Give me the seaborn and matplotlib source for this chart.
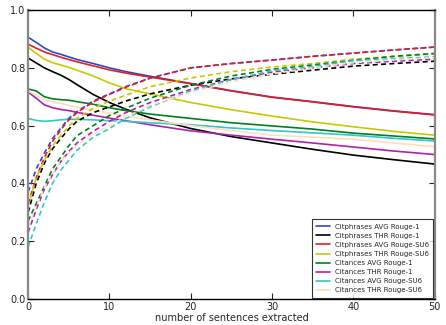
import numpy as np
import pandas as pd
import seaborn as sns
import matplotlib
matplotlib.use("Agg")
import matplotlib.pyplot as plt

# x positions (number of sentences extracted)
xs = [0, 1, 2, 3, 4, 5, 6, 8, 10, 12, 15, 20, 25, 30, 35, 40, 45, 50]

labels = ["Citphrases AVG Rouge-1", "Citphrases THR Rouge-1",
          "Citphrases AVG Rouge-SU6", "Citphrases THR Rouge-SU6",
          "Citances AVG Rouge-1", "Citances THR Rouge-1",
          "Citances AVG Rouge-SU6", "Citances THR Rouge-SU6"]
colors = ["#3344cc", "black", "#e02020", "#c8c800",
          "#008020", "#b020b0", "#30c8c8", "#ffdcbc"]

# solid (decreasing) curves
solid_cp_avg_r1 = [0.906, 0.888, 0.869, 0.855, 0.847, 0.838, 0.829, 0.815, 0.800, 0.787, 0.771, 0.746, 0.721, 0.699, 0.683, 0.666, 0.651, 0.638]
solid_cp_thr_r1 = [0.834, 0.817, 0.800, 0.787, 0.775, 0.760, 0.742, 0.708, 0.680, 0.657, 0.627, 0.590, 0.562, 0.540, 0.518, 0.498, 0.482, 0.467]
solid_cp_avg_su6 = [0.882, 0.868, 0.855, 0.846, 0.837, 0.829, 0.821, 0.807, 0.793, 0.782, 0.768, 0.745, 0.720, 0.698, 0.682, 0.665, 0.650, 0.637]
solid_cp_thr_su6 = [0.872, 0.850, 0.830, 0.818, 0.810, 0.802, 0.792, 0.772, 0.748, 0.728, 0.710, 0.680, 0.655, 0.633, 0.613, 0.596, 0.580, 0.567]
solid_ct_avg_r1 = [0.727, 0.720, 0.700, 0.693, 0.690, 0.688, 0.683, 0.674, 0.662, 0.652, 0.640, 0.625, 0.610, 0.599, 0.588, 0.574, 0.564, 0.554]
solid_ct_thr_r1 = [0.716, 0.695, 0.672, 0.662, 0.656, 0.652, 0.646, 0.636, 0.626, 0.617, 0.603, 0.582, 0.567, 0.553, 0.540, 0.526, 0.512, 0.500]
solid_ct_avg_su6 = [0.625, 0.618, 0.615, 0.617, 0.620, 0.622, 0.622, 0.620, 0.617, 0.615, 0.610, 0.603, 0.592, 0.583, 0.575, 0.567, 0.556, 0.547]
solid_ct_thr_su6 = [0.720, 0.705, 0.690, 0.683, 0.677, 0.670, 0.664, 0.654, 0.643, 0.633, 0.620, 0.600, 0.583, 0.567, 0.560, 0.553, 0.540, 0.527]

# dashed (increasing) curves
dash_cp_avg_r1 = [0.370, 0.450, 0.505, 0.555, 0.590, 0.625, 0.648, 0.685, 0.710, 0.735, 0.765, 0.800, 0.815, 0.827, 0.840, 0.851, 0.862, 0.872]
dash_cp_thr_r1 = [0.300, 0.400, 0.470, 0.520, 0.555, 0.588, 0.615, 0.645, 0.665, 0.685, 0.710, 0.740, 0.762, 0.778, 0.792, 0.806, 0.815, 0.823]
dash_cp_avg_su6 = [0.330, 0.420, 0.490, 0.545, 0.585, 0.620, 0.645, 0.682, 0.708, 0.733, 0.764, 0.800, 0.815, 0.827, 0.840, 0.851, 0.862, 0.872]
dash_cp_thr_su6 = [0.320, 0.420, 0.480, 0.530, 0.565, 0.598, 0.625, 0.660, 0.685, 0.705, 0.735, 0.765, 0.787, 0.803, 0.815, 0.830, 0.840, 0.848]
dash_ct_avg_r1 = [0.270, 0.330, 0.390, 0.450, 0.490, 0.530, 0.565, 0.600, 0.635, 0.660, 0.695, 0.740, 0.772, 0.795, 0.810, 0.826, 0.840, 0.850]
dash_ct_thr_r1 = [0.230, 0.310, 0.380, 0.430, 0.475, 0.510, 0.540, 0.580, 0.615, 0.645, 0.680, 0.725, 0.760, 0.785, 0.800, 0.815, 0.823, 0.830]
dash_ct_avg_su6 = [0.180, 0.260, 0.335, 0.400, 0.445, 0.480, 0.515, 0.560, 0.590, 0.625, 0.665, 0.720, 0.760, 0.790, 0.805, 0.825, 0.832, 0.838]
dash_ct_thr_su6 = [0.250, 0.320, 0.385, 0.435, 0.475, 0.505, 0.530, 0.570, 0.600, 0.630, 0.670, 0.715, 0.752, 0.780, 0.800, 0.818, 0.828, 0.835]

solids = [solid_cp_avg_r1, solid_cp_thr_r1, solid_cp_avg_su6, solid_cp_thr_su6,
          solid_ct_avg_r1, solid_ct_thr_r1, solid_ct_avg_su6, solid_ct_thr_su6]
dashes = [dash_cp_avg_r1, dash_cp_thr_r1, dash_cp_avg_su6, dash_cp_thr_su6,
          dash_ct_avg_r1, dash_ct_thr_r1, dash_ct_avg_su6, dash_ct_thr_su6]

sns.set_style("white")
plt.rcParams['font.family'] = ['DejaVu Sans']

fig = plt.figure(figsize=(4.46, 3.25), dpi=100)
ax = fig.add_axes([0.063, 0.08, 0.912, 0.889])

for lab, col, ys in zip(labels, colors, solids):
    sns.lineplot(x=xs, y=ys, color=col, label=lab, linewidth=1.2, ax=ax)
for col, ys in zip(colors, dashes):
    sns.lineplot(x=xs, y=ys, color=col, linewidth=1.2, linestyle=(0, (3, 2)), ax=ax)

ax.set_xlim(0, 50)
ax.set_ylim(0, 1.0)
ax.set_xticks([0, 10, 20, 30, 40, 50])
ax.set_yticks([0.0, 0.2, 0.4, 0.6, 0.8, 1.0])
ax.set_yticklabels(["0.0", "0.2", "0.4", "0.6", "0.8", "1.0"])
ax.tick_params(direction="in", length=4, width=0.8, labelsize=7, top=True, right=True,
               bottom=True, left=True, pad=2, colors="#222222")
ax.set_xlabel("number of sentences extracted", fontsize=7, labelpad=1)

for side in ["left", "right"]:
    ax.spines[side].set_color("#888888")
    ax.spines[side].set_linewidth(1.6)
for side in ["top", "bottom"]:
    ax.spines[side].set_color("black")
    ax.spines[side].set_linewidth(1.0)

leg = ax.legend(loc="lower right", fontsize=5, frameon=True, fancybox=False,
                borderaxespad=0.2, handlelength=2.0, labelspacing=0.45, borderpad=0.6)
leg.get_frame().set_edgecolor("black")
leg.get_frame().set_linewidth(0.8)

fig.savefig("out.png", dpi=100)
